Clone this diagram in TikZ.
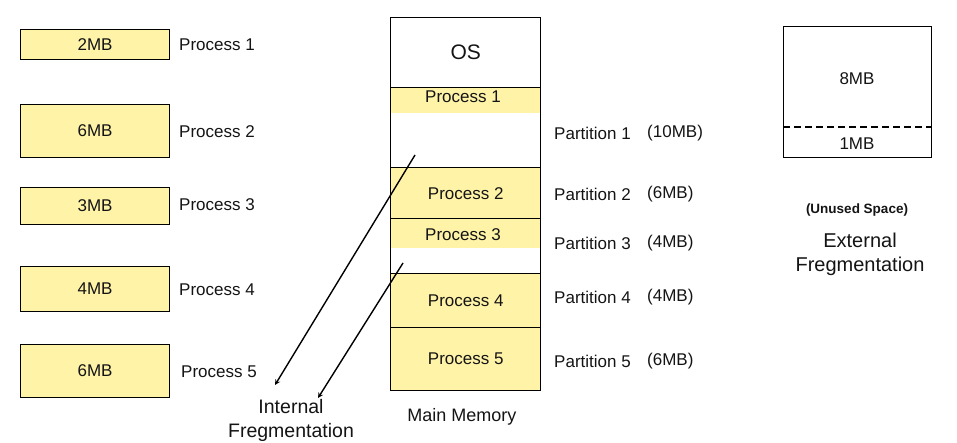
\documentclass[tikz,border=0pt]{standalone}
\usepackage{fontspec}
\setmainfont{Liberation Sans}
\usetikzlibrary{positioning,arrows}
\definecolor{colorproc}{RGB}{255,243,168}
\definecolor{colortext}{RGB}{20,20,20}

\begin{document}
\begin{tikzpicture}[
    x=1pt, y=-1pt,
    font={\fontsize{17}{19}\selectfont},
    base/.style={text=colortext,inner sep=0pt,align=center,rectangle},
    proc/.style={base,fill=colorproc,draw=black,line width=1.2pt,minimum width=149pt,anchor=north west},
    txt/.style={text=colortext,anchor=west,inner sep=0pt},
    mem/.style={base,draw=black,line width=1.4pt,minimum width=150pt,anchor=north west},
]
    \useasboundingbox (0,0) rectangle (957,443);

    % Processes
    \node[proc,minimum height=30pt] (p1) at (20,29)  {2MB};
    \node[proc,minimum height=53pt] (p2) at (20,104) {6MB};
    \node[proc,minimum height=37pt] (p3) at (20,187) {3MB};
    \node[proc,minimum height=45pt] (p4) at (20,266) {4MB};
    \node[proc,minimum height=53pt] (p5) at (20,344) {6MB};
    \node[txt] (p1txt) at (179,45)  {Process 1};
    \node[txt] (p2txt) at (179,132) {Process 2};
    \node[txt] (p3txt) at (179,205) {Process 3};
    \node[txt] (p4txt) at (179,290) {Process 4};
    \node[txt] (p5txt) at (181,372) {Process 5};

    % Main memory
    \fill[colorproc] (390,88) rectangle (540,113);
    \fill[colorproc] (390,218) rectangle (540,248);
    \node[mem,minimum height=70pt] (os)    at (390,17)  {\fontsize{21}{23}\selectfont OS};
    \node[mem,minimum height=80pt] (part1) at (390,87)  {};
    \node[mem,fill=colorproc,minimum height=51pt] (part2) at (390,167) {Process 2};
    \node[mem,minimum height=55pt] (part3) at (390,218) {};
    \node[mem,fill=colorproc,minimum height=54pt] (part4) at (390,273) {Process 4};
    \node[mem,fill=colorproc,minimum height=63pt] (part5) at (390,327) {Process 5};
    \node[base] (m1) at (463,97)  {Process 1};
    \node[base] (m3) at (463,235) {Process 3};
    \node[base,font={\fontsize{18}{20}\selectfont}] (memtxt) at (462,417) {Main Memory};

    % Partitions
    \foreach \i/\y/\s in {1/133/10MB,2/194/6MB,3/243/4MB,4/297/4MB,5/361/6MB}{
        \node[txt] (pt\i) at (554,\y) {Partition \i};
        \node[txt] (ps\i) at (647,\y) {(\s)};
    }

    % Internal fragmentation
    \node[base,align=center,font={\fontsize{19.5}{24}\selectfont}] (inttxt) at (291,420)
        {Internal\\Fregmentation};
    \coordinate (hole1) at (415,155);
    \coordinate (hole3) at (403,263);
    \coordinate (end1) at (275,385);
    \coordinate (end3) at (318,398);
    \draw[->,line width=1.4pt,>=stealth](hole1) -- (end1);
    \draw[->,line width=1.4pt,>=stealth](hole3) -- (end3);

    % External fragmentation
    \node[mem,line width=1.2pt,minimum width=148pt,minimum height=131pt] (ext) at (783,26) {};
    \draw[line width=1.8pt,dash pattern=on 7pt off 4pt] (ext.west |- 0,127) -- (ext.east |- 0,127);
    \node[base] (ext8) at (857,79)  {8MB};
    \node[base] (ext1) at (857,144) {1MB};
    \node[base,font={\fontsize{13.5}{16}\selectfont\bfseries}] (unused) at (857,210) {(Unused Space)};
    \node[base,font={\fontsize{20}{24}\selectfont}] (exttxt) at (860,254) {External\\Fregmentation};
\end{tikzpicture}
\end{document}
